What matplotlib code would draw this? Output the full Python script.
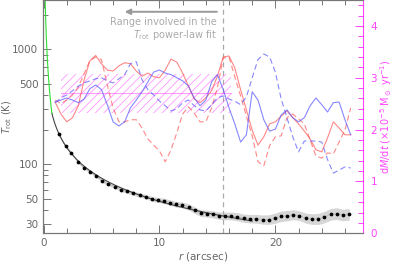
import numpy as np
import matplotlib.pyplot as plt
from matplotlib.ticker import FixedLocator, LogLocator, MultipleLocator, FuncFormatter, NullFormatter

# rotational temperature profile
r_pts = [1.35, 1.90, 2.41, 2.97, 3.48, 4.03, 4.54, 5.06, 5.60, 6.16, 6.67, 7.22,
         7.76, 8.28, 8.83, 9.37, 9.89, 10.41, 10.92, 11.44, 11.96, 12.53, 13.05, 13.57,
         14.09, 14.60, 15.12, 15.69, 16.21, 16.72, 17.30, 17.82, 18.34, 18.91, 19.43, 19.95,
         20.52, 21.03, 21.55, 22.07, 22.65, 23.16, 23.68, 24.20, 24.78, 25.30, 25.81, 26.38]
t_rot = [182, 144, 126, 105, 93, 86, 79, 72, 67, 64, 60, 58,
         56, 54, 52.3, 49.9, 48.9, 48.0, 46.4, 44.9, 44.3, 42.5, 39.8, 37.5,
         37.2, 36.7, 35.7, 35.5, 35.5, 35.0, 33.9, 33.6, 33.6, 33.0, 33.0, 33.9,
         35.3, 35.7, 36.4, 35.7, 33.9, 33.4, 33.4, 34.6, 36.7, 37.2, 36.2, 36.7]
t_err_dex = [0.006, 0.007, 0.008, 0.009, 0.010, 0.011, 0.012, 0.013, 0.014, 0.015, 0.016, 0.017,
             0.018, 0.019, 0.020, 0.021, 0.022, 0.023, 0.024, 0.025, 0.026, 0.027, 0.028, 0.029,
             0.030, 0.031, 0.032, 0.033, 0.034, 0.035, 0.036, 0.037, 0.038, 0.040, 0.042, 0.044,
             0.046, 0.045, 0.043, 0.042, 0.044, 0.046, 0.048, 0.050, 0.051, 0.051, 0.050, 0.050]

# power-law fits (outer fit and inner extension)
fit_amp, fit_index, fit_r = 222.6, -0.67, (0.72, 18.0)
inner_amp, inner_index, inner_r = 174.8, -1.4, (0.12, 0.72)
r_fit_edge = 15.5

# mass-loss rates (1e-5 Msun/yr)
r_mdot = [1.0, 1.5, 2.0, 2.5, 3.0, 3.5, 4.0, 4.5, 5.0, 5.5, 6.0, 6.5, 7.0,
          7.5, 8.0, 8.5, 9.0, 9.5, 10.0, 10.5, 11.0, 11.5, 12.0, 12.5, 13.0,
          13.5, 14.0, 14.5, 15.0, 15.5, 16.0, 16.5, 17.0, 17.5, 18.0, 18.5, 19.0,
          19.5, 20.0, 20.5, 21.0, 21.5, 22.0, 22.5, 23.0, 23.5, 24.0, 24.5, 25.0,
          25.5, 26.0, 26.5]
mdot_red_solid = [2.53, 2.30, 2.15, 2.23, 2.46, 2.96, 3.33, 3.43, 3.27, 3.15,
                  3.13, 3.23, 3.29, 3.27, 3.13, 3.03, 3.09, 3.02, 3.00, 3.15,
                  3.36, 3.30, 3.09, 2.84, 2.59, 2.52, 2.61, 2.75, 3.03, 3.40,
                  3.42, 3.19, 2.77, 2.38, 1.99, 1.70, 1.86, 2.11, 2.15, 2.26,
                  2.36, 2.23, 2.11, 1.97, 1.82, 1.61, 1.57, 1.84, 2.15, 2.03,
                  1.90, 1.90]
mdot_red_dash = [2.57, 2.50, 2.57, 2.67, 2.82, 3.08, 3.33, 3.40, 3.35, 2.86,
                 2.42, 2.15, 2.15, 2.19, 2.19, 2.03, 1.82, 1.70, 1.59, 1.38,
                 1.61, 1.94, 2.30, 2.44, 2.32, 2.15, 2.15, 2.42, 2.81, 3.38,
                 3.40, 3.02, 2.65, 2.26, 1.88, 1.38, 1.30, 1.69, 1.86, 1.88,
                 2.23, 2.30, 2.21, 2.11, 1.80, 1.49, 1.45, 1.55, 1.53, 1.76,
                 1.99, 2.42]
mdot_blue_solid = [2.53, 2.57, 2.61, 2.57, 2.52, 2.59, 2.79, 2.86, 2.77, 2.48,
                   2.15, 2.07, 2.15, 2.42, 2.57, 2.73, 2.92, 3.11, 3.15, 3.09,
                   3.06, 3.00, 2.94, 2.84, 2.61, 2.46, 2.57, 2.92, 3.06, 2.77,
                   2.42, 2.11, 1.76, 1.90, 2.73, 2.57, 2.19, 1.97, 2.01, 2.28,
                   2.38, 2.23, 2.15, 2.23, 2.46, 2.61, 2.48, 2.34, 2.52, 2.53,
                   2.19, 1.90]
mdot_blue_dash = [2.52, 2.61, 2.67, 2.75, 2.84, 2.90, 2.94, 2.98, 3.00, 2.94,
                  2.90, 2.98, 3.06, 3.27, 3.31, 2.96, 2.77, 2.67, 2.55, 2.46,
                  2.36, 2.40, 2.52, 2.57, 2.46, 2.38, 2.36, 2.48, 2.61, 2.65,
                  2.59, 2.55, 2.48, 2.63, 3.00, 3.35, 3.46, 3.40, 3.11, 2.59,
                  2.23, 1.86, 1.57, 1.78, 1.78, 1.78, 1.76, 1.42, 1.16, 1.22,
                  1.28, 1.26]
mdot_mean, mdot_lo, mdot_hi = 2.70, 2.32, 3.08
mdot_r = (1.5, 16.2)

grey = '#777777'
pink = '#ff44ff'
plt.rcParams['font.family'] = 'DejaVu Sans'
plt.rcParams['font.size'] = 7.5
plt.rcParams['mathtext.fontset'] = 'dejavusans'
plt.rcParams['hatch.linewidth'] = 0.6

fig = plt.figure(figsize=(3.95, 2.63), dpi=100)
ax = fig.add_axes([0.1096, 0.113, 0.8106, 0.887])
ax2 = ax.twinx()

# temperature profile
r_arr = np.array(r_pts)
t_arr = np.array(t_rot)
err = np.array(t_err_dex)
ax.fill_between(r_arr, t_arr * 10**(-err), t_arr * 10**err, color='#d6d6d6', lw=0, zorder=1)
ax.plot(r_arr, t_arr, color='#bbbbbb', lw=0.6, zorder=1)
rr = np.geomspace(*fit_r, 200)
ax.plot(rr, fit_amp * rr**fit_index, color='#444444', lw=0.8, zorder=2)
ri = np.geomspace(*inner_r, 100)
ax.plot(ri, inner_amp * ri**inner_index, color='#33dd33', lw=0.8, zorder=2)
ax.plot(r_arr, t_arr, 'o', color='black', ms=2.7, mew=0, zorder=3)

ax.axvline(r_fit_edge, color='#aaaaaa', ls=(0, (4, 3)), lw=0.9, zorder=1)
ax.annotate('', xy=(7.0, 2120), xytext=(14.95, 2120),
            arrowprops=dict(arrowstyle='-|>', color='#999999', lw=1.4,
                            mutation_scale=8, shrinkA=0, shrinkB=0))
ax.text(14.95, 1900, 'Range involved in the\n$T_{\\rm rot}$ power-law fit', ha='right', va='top',
        color='#aaaaaa', fontsize=7, linespacing=1.1)

# mass-loss rates
ax2.fill_between(mdot_r, mdot_lo, mdot_hi, facecolor='none', edgecolor=pink,
                 hatch='////', lw=0, alpha=0.55, zorder=1)
ax2.plot(mdot_r, [mdot_mean, mdot_mean], color=pink, lw=0.8, alpha=0.5, zorder=1)
ax2.plot(r_mdot, mdot_red_solid, color='#ff5555', lw=0.8, alpha=0.7)
ax2.plot(r_mdot, mdot_red_dash, color='#ff5555', lw=0.8, alpha=0.7, ls=(0, (5, 3)))
ax2.plot(r_mdot, mdot_blue_solid, color='#5555ff', lw=0.8, alpha=0.7)
ax2.plot(r_mdot, mdot_blue_dash, color='#5555ff', lw=0.8, alpha=0.7, ls=(0, (5, 3)))

# axes setup
ax.set_xlim(-0.02, 27.6)
ax.set_yscale('log')
ax.set_ylim(25.1, 2684)
ax.yaxis.set_major_locator(FixedLocator([30, 50, 100, 500, 1000]))
ax.yaxis.set_major_formatter(FuncFormatter(lambda v, p: '%d' % v))
ax.yaxis.set_minor_locator(LogLocator(subs=np.arange(2, 10)))
ax.yaxis.set_minor_formatter(NullFormatter())
ax.xaxis.set_major_locator(MultipleLocator(10))
ax.xaxis.set_minor_locator(MultipleLocator(2))
ax2.set_ylim(0, 4.5)
ax2.yaxis.set_major_locator(MultipleLocator(1))
ax2.yaxis.set_minor_locator(MultipleLocator(0.2))

ax.tick_params(which='both', direction='in', top=True, right=False, colors=grey,
               labelcolor='#666666', width=0.7)
ax.tick_params(which='major', length=6)
ax.tick_params(which='minor', length=3.5)
ax2.tick_params(which='both', direction='in', colors=pink, labelcolor=pink, width=0.7)
ax2.tick_params(which='major', length=6, pad=5)
ax2.tick_params(which='minor', length=3.5)
for s in ['left', 'bottom', 'top']:
    ax.spines[s].set_color(grey)
    ax2.spines[s].set_color(grey)
ax2.spines['right'].set_color(pink)
ax.spines['right'].set_visible(False)

ax.set_xlabel('$r$ (arcsec)', color='#666666', labelpad=1)
ax.set_ylabel('$T_{\\rm rot}$ (K)', color='#666666', fontsize=7)
ax.yaxis.set_label_coords(-0.09, 0.5)
ax2.set_ylabel('d$M$/d$t$ ($\\times 10^{-5}$ M$_\\odot$ yr$^{-1}$)', color=pink, fontsize=7)
ax2.yaxis.set_label_coords(1.047, 0.5)

fig.savefig('out.png', dpi=100)
